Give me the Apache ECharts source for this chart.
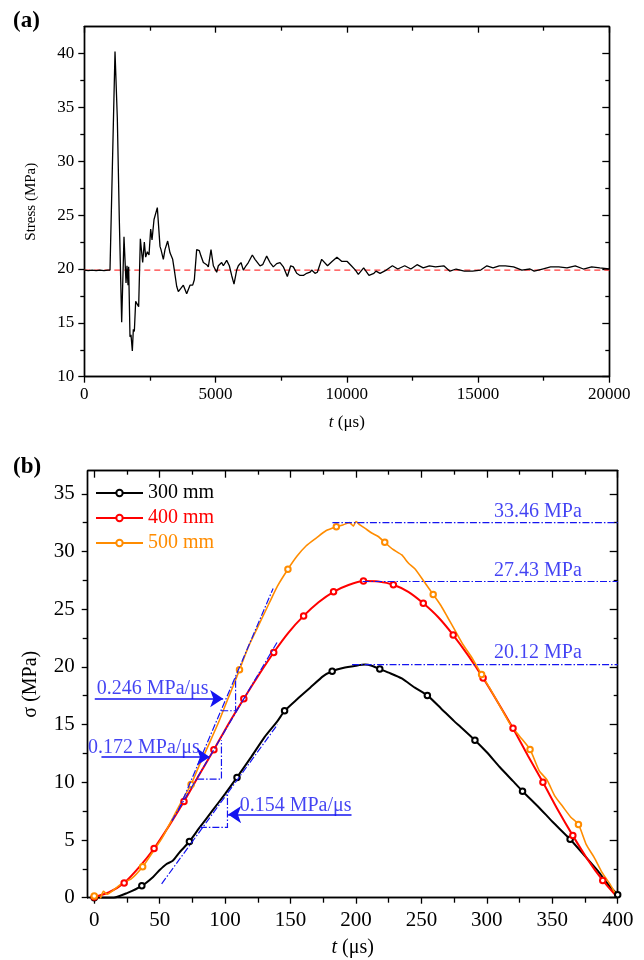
<!DOCTYPE html>
<html><head><meta charset="utf-8">
<script src="https://cdn.jsdelivr.net/npm/echarts@6/dist/echarts.min.js"></script>
<style>html,body{margin:0;padding:0;background:#fff}#c{width:644px;height:960px}</style>
</head><body><div id="c"></div>
<script>
// ================= DATA (a) =================
const tA = [0,150,300,450,600,750,900,979,1170,1258,1334,1424,1512,1589,1627,1665,1690,1741,1779,1830,1868,1906,1957,2020,2071,2135,2186,2224,2287,2338,2401,2465,2529,2580,2656,2782,2884,2922,3011,3074,3176,3265,3367,3430,3519,3582,3646,3773,3900,4027,4129,4192,4281,4382,4446,4535,4662,4725,4827,4916,4980,5043,5106,5233,5297,5424,5525,5614,5703,5805,5868,5970,6059,6160,6249,6401,6503,6567,6694,6795,6948,7075,7201,7329,7456,7583,7735,7862,7964,8091,8218,8345,8472,8599,8662,8789,8878,9043,9265,9437,9624,9813,10016,10173,10329,10439,10642,10845,11033,11112,11268,11503,11738,11941,12207,12442,12677,12911,13146,13381,13694,13929,14163,14476,14789,15102,15337,15572,15807,16041,16354,16668,16981,17137,17450,17763,18076,18389,18702,19015,19328,19641,20000];
const sA = [19.9,19.85,19.9,19.85,19.9,19.85,19.9,19.9,40.2,34.0,24.6,15.05,23.0,18.7,20.3,18.5,20.2,13.7,13.9,12.4,14.4,14.2,17.0,17.0,16.5,22.8,22.7,20.6,22.5,21.1,21.6,21.3,23.7,22.7,24.6,25.7,22.1,21.8,20.9,21.8,22.6,21.5,20.9,19.9,18.4,17.9,18.0,18.5,17.7,18.5,18.5,19.0,21.8,21.7,21.2,20.6,20.4,20.2,21.8,20.3,20.3,19.7,20.3,20.6,20.3,20.8,20.3,19.4,18.6,19.9,20.3,20.6,19.9,20.3,20.6,21.3,20.9,21.0,20.3,20.4,21.2,20.6,20.2,20.5,20.6,20.2,19.3,20.3,20.2,19.6,19.4,19.4,19.6,19.7,19.9,19.6,19.7,20.9,20.3,20.7,21.1,20.7,20.7,20.3,19.9,19.5,20.1,19.4,19.6,19.8,19.6,19.9,20.3,20.0,20.3,20.0,20.4,20.1,20.3,20.2,20.3,19.8,20.0,19.8,19.8,19.9,20.3,20.1,20.3,20.3,20.2,19.9,20.0,19.8,20.0,20.2,20.2,20.1,20.3,20.0,20.2,20.1,20.0];
const refA = 19.9;
const xTicksA = [0,5000,10000,15000,20000];
const xMinorA = [2500,7500,12500,17500];
const yTicksA = [10,15,20,25,30,35,40];
const yMinorA = [12.5,17.5,22.5,27.5,32.5,37.5];

// ================= DATA (b) =================
const t300 = [0,15,25,36.36,45,50,55,60,65,72.73,80,90,100,109.09,120,130,140,145.45,155,165,175,181.82,190,200,207,212,218.18,225,235,245,254.55,265,275,280,290.91,300,310,320,327.27,340,350,363.64,375,385,393,400];
const s300 = [0,0,0.4,1.03,1.8,2.4,2.9,3.2,3.9,4.87,6.0,7.5,9.0,10.42,12.2,13.9,15.3,16.19,17.2,18.2,19.2,19.62,19.9,20.1,20.2,20.1,19.81,19.5,19.0,18.2,17.53,16.4,15.3,14.8,13.65,12.6,11.3,10.1,9.23,7.8,6.6,5.06,3.6,2.3,1.1,0.26];
const mk300 = [0,36.36,72.73,109.09,145.45,181.82,218.18,254.55,290.91,327.27,363.64,400];

const t400 = [0,11,22.86,34,45.71,57,68.57,80,91.43,102.8,114.29,125.7,137.14,148.6,160,171.4,182.86,194.3,205.71,217,228.57,240,251.43,262.9,274.29,285.7,297.14,308.6,320,331.4,342.86,354.3,365.71,377.1,388.57,400];
const s400 = [0.05,0.45,1.28,2.6,4.26,6.2,8.33,10.6,12.82,15.1,17.24,19.3,21.25,23.0,24.42,25.6,26.51,27.1,27.44,27.4,27.12,26.5,25.51,24.3,22.76,21.0,19.04,16.9,14.68,12.3,10.0,7.6,5.38,3.3,1.5,0.0];
const mk400 = [0,22.86,45.71,68.57,91.43,114.29,137.14,160,182.86,205.71,228.57,251.43,274.29,297.14,320,342.86,365.71,388.57];

const t500 = [0,4,7,10,14,22,28,37,45,52,60,67,74,80,88,95,102,106,111,118,126,134,140,148,155,162,170,177,185,190,195,198,200,203,207,212,217,222,228,235,240,245,252,259,265,270,276,282,288,296,302,310,318,325,333,340,346,352,358,364,370,376,382,388,394,400];
const s500 = [0.15,-0.2,0.55,0.3,0.6,1.3,1.6,2.68,4.0,5.2,6.9,8.4,9.81,11.4,13.4,15.2,17.2,18.3,19.76,21.8,23.7,25.6,27.0,28.46,29.6,30.5,31.2,31.8,32.15,32.3,32.5,32.2,32.6,32.3,32.0,31.6,31.3,30.8,30.2,29.7,29.0,28.5,27.4,26.28,25.3,24.3,23.1,21.9,20.9,19.33,18.2,16.6,15.0,14.0,12.85,11.0,10.2,8.8,7.9,7.0,6.35,4.6,3.5,2.2,1.2,0];
const mk500 = [0,37,74,111,148,185,222,259,296,333,370];

const xTicksB = [0,50,100,150,200,250,300,350,400];
const xMinorB = [25,75,125,175,225,275,325,375];
const yTicksB = [0,5,10,15,20,25,30,35];
const yMinorB = [2.5,7.5,12.5,17.5,22.5,27.5,32.5];

// annotation geometry (data units)
const peakLines = [[[182,32.5],[400,32.5]],[[205,27.4],[400,27.4]],[[197,20.2],[400,20.2]]];
const tangents = [[[64,7.5],[136.7,26.8]],[[59.3,6.66],[139.9,22.16]],[[51.5,1.2],[140,15.0]]];
const triangles = [[[97,16.2],[108,16.2],[108,19.15]],[[78.6,10.27],[97.2,10.27],[97.2,13.64]],[[80.7,6.09],[101.8,6.09],[101.8,9.03]]];
const arrows = [[[0.4,17.25],[98.5,17.25]],[[5.5,12.2],[88.3,12.2]],[[196.6,7.2],[102.3,7.2]]];
const noteText = ['33.46 MPa','27.43 MPa','20.12 MPa','0.246 MPa/μs','0.172 MPa/μs','0.154 MPa/μs'];
const noteX = [339,339,339,1.9,-4.8,111.1];
const noteY = [33.4,28.3,21.25,18.14,13.0,8.0];
const noteCentered = [true,true,true,false,false,false];

// ================= CHART =================
const FF = "'Liberation Serif','Times New Roman',serif";
const BLUE = '#1414f0';
const chart = echarts.init(document.getElementById('c'), null, {renderer:'canvas'});

function ax(o){
  return {
    type:'value', gridIndex:o.g, position:o.pos, min:o.min, max:o.max,
    axisLine:{show:true, onZero:false, lineStyle:{color:'#000', width:1.4}},
    axisTick:{show:true, inside:!!o.inside, length:o.len, customValues:o.ticks, lineStyle:{color:'#000', width:1.3}},
    axisLabel:{show:!!o.lab, customValues:o.ticks, margin:o.margin||8, color:'#000', fontFamily:FF, fontSize:o.fs||16,
               formatter:(v)=>String(v)},
    splitLine:{show:false}, minorTick:{show:false},
    name:o.name||'', nameLocation:'middle', nameGap:o.nameGap||0,
    nameTextStyle:o.nts||{}
  };
}
const xAxes = [
  ax({g:0,pos:'bottom',min:0,max:20000,ticks:xTicksA,len:6,lab:true,margin:9,fs:17,
      name:'{i|t} (μs)',nameGap:37,nts:{fontFamily:FF,fontSize:17,color:'#000',rich:{i:{fontStyle:'italic',fontFamily:FF,fontSize:17}}}}),
  ax({g:0,pos:'bottom',min:0,max:20000,ticks:xMinorA,len:4}),
  ax({g:0,pos:'top',min:0,max:20000,ticks:xTicksA,len:6,inside:true}),
  ax({g:0,pos:'top',min:0,max:20000,ticks:xMinorA,len:4,inside:true}),
  ax({g:1,pos:'bottom',min:-5,max:400,ticks:xTicksB,len:6,lab:true,margin:12,fs:21,
      name:'{i|t} (μs)',nameGap:40,nts:{fontFamily:FF,fontSize:20,color:'#000',rich:{i:{fontStyle:'italic',fontFamily:FF,fontSize:20}}}}),
  ax({g:1,pos:'bottom',min:-5,max:400,ticks:xMinorB,len:5}),
  ax({g:1,pos:'top',min:-5,max:400,ticks:xTicksB,len:7,inside:true}),
  ax({g:1,pos:'top',min:-5,max:400,ticks:xMinorB,len:4,inside:true})
];
const yAxes = [
  ax({g:0,pos:'left',min:10,max:42.5,ticks:yTicksA,len:6,lab:true,margin:10,fs:17,
      name:'Stress (MPa)',nameGap:46,nts:{fontFamily:FF,fontSize:15,color:'#000'}}),
  ax({g:0,pos:'left',min:10,max:42.5,ticks:yMinorA,len:4}),
  ax({g:0,pos:'right',min:10,max:42.5,ticks:yTicksA,len:7,inside:true}),
  ax({g:0,pos:'right',min:10,max:42.5,ticks:yMinorA,len:4,inside:true}),
  ax({g:1,pos:'left',min:0,max:37,ticks:yTicksB,len:6,lab:true,margin:13,fs:21,
      name:'σ (MPa)',nameGap:47,nts:{fontFamily:FF,fontSize:20,color:'#000'}}),
  ax({g:1,pos:'left',min:0,max:37,ticks:yMinorB,len:5}),
  ax({g:1,pos:'right',min:0,max:37,ticks:yTicksB,len:8,inside:true}),
  ax({g:1,pos:'right',min:0,max:37,ticks:yMinorB,len:4,inside:true})
];

const zip = (a,b) => a.map((v,i)=>[v,b[i]]);
function curve(name, ts, ss, mk, color, width){
  return {
    name, type:'line', xAxisIndex:4, yAxisIndex:4, data:zip(ts,ss),
    symbol:'emptyCircle', showAllSymbol:true,
    symbolSize:(v)=> mk.indexOf(v[0])>=0 ? 5.5 : 0,
    itemStyle:{color:color, borderWidth:1.1},
    lineStyle:{color:color, width:width}, smooth:0.2, z:3
  };
}

const option = {
  animation:false,
  backgroundColor:'#fff',
  grid:[
    {left:84.3, top:26.7, width:525, height:350},
    {left:87.7, top:470.7, width:530, height:427}
  ],
  xAxis:xAxes, yAxis:yAxes,
  legend:{
    orient:'vertical', left:95, top:483, padding:0, itemWidth:47, itemHeight:8, itemGap:5,
    textStyle:{fontFamily:FF, fontSize:20, lineHeight:20},
    data:[{name:'300 mm',textStyle:{color:'#000'}},{name:'400 mm',textStyle:{color:'#ff0000'}},{name:'500 mm',textStyle:{color:'#ff8c00'}}]
  },
  graphic:[
    {type:'text', left:13, top:10, style:{text:'(a)', font:"bold 23px 'Liberation Serif', serif", fill:'#000'}},
    {type:'text', left:13, top:456, style:{text:'(b)', font:"bold 23px 'Liberation Serif', serif", fill:'#000'}}
  ],
  series:[
    {type:'line', xAxisIndex:0, yAxisIndex:0, data:[[0,refA],[20000,refA]], symbol:'none',
     lineStyle:{color:'#ff3b3b', width:1.4, type:[6,4]}, z:2},
    {type:'line', xAxisIndex:0, yAxisIndex:0, data:zip(tA,sA), symbol:'none',
     lineStyle:{color:'#000', width:1.3}, z:3},
    curve('300 mm', t300, s300, mk300, '#000000', 2),
    curve('400 mm', t400, s400, mk400, '#ff0000', 2),
    curve('500 mm', t500, s500, mk500, '#ff8c00', 1.6),
    {type:'lines', coordinateSystem:'cartesian2d', xAxisIndex:4, yAxisIndex:4, polyline:true, silent:true, z:5,
     data:[...peakLines,...tangents,...triangles].map(c=>({coords:c})),
     lineStyle:{color:BLUE, width:1.2, type:[7,2,1.5,2], opacity:1}, symbol:'none'},
    {type:'lines', coordinateSystem:'cartesian2d', xAxisIndex:4, yAxisIndex:4, silent:true, z:6,
     data:arrows.map(c=>({coords:c})),
     lineStyle:{color:BLUE, width:1.6, opacity:1}, symbol:['none','arrow'], symbolSize:[9,13]},
    {type:'scatter', xAxisIndex:4, yAxisIndex:4, silent:true, z:7, symbolSize:0.1,
     itemStyle:{color:'rgba(0,0,0,0)'},
     label:{show:true, formatter:'{b}', color:BLUE, fontFamily:FF, fontSize:20},
     data:noteText.map((s,i)=>({name:s, value:[noteX[i],noteY[i]],
        label: noteCentered[i] ? {position:'inside', align:'center', verticalAlign:'middle'} : {position:'right', distance:0}}))}
  ]
};
chart.setOption(option);
</script></body></html>
